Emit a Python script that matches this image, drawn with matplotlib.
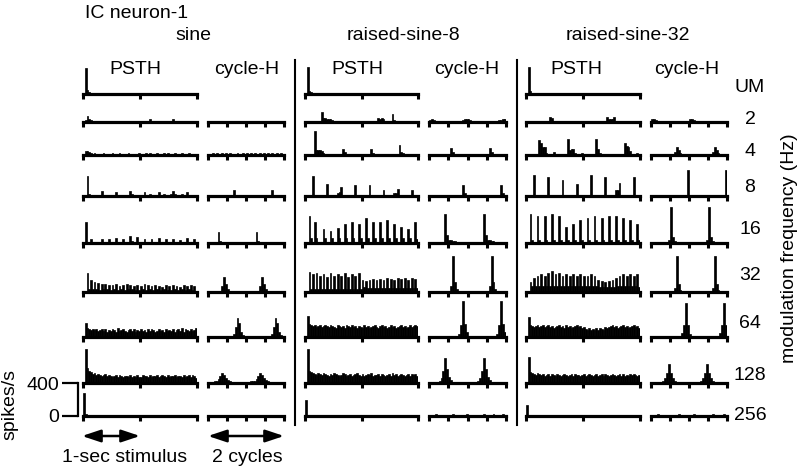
import numpy as np
import matplotlib.pyplot as plt
from matplotlib.lines import Line2D
from matplotlib.patches import FancyArrowPatch

plt.rcParams['font.family'] = ['Liberation Sans', 'DejaVu Sans']
FS = 14

conditions = ['sine', 'raised-sine-8', 'raised-sine-32']
rates = ['UM', '2', '4', '8', '16', '32', '64', '128', '256']

# Histogram heights, one base-36 char per bin, 1 step = 12.5 spikes/s.
# PSTH: 64 bins over the 1-s stimulus. cycle-H: 40 bins over 2 cycles (no UM row).
STEP = 12.5

sine_psth = [
    "0p421100 00000000 00000000 00000000 00000000 00000000 00000000 00000000",
    "02632110 10010001 00100100 01001000 00100301 00100010 00310010 01001000",
    "04432121 01020100 20102010 02010102 01020201 02010202 01020102 01020100",
    "00j21010 01510000 00401000 00520100 00410201 01410201 02520102 01410100",
    "0k104100 00410041 00510041 00720061 00410041 00510041 00410031 00510040",
    "00i3c3a3 92838372 73826372 83736272 63827362 73625372 62736253 72637261",
    "0e987878 67868576 87596786 57868576 86758687 56867586 76857869 58768679",
    "0xfcb9a8 98789787 67868767 76867686 68776867 78678768 67786776 86786875",
    "m2000000 00000000 00000000 00000000 00000000 00000000 00000000 00000000",
]
sine_cyc = [
    "10110101 10010110 01011010 11010100 10110101",
    "01212112 12121012 11212121 21121212 12112121",
    "00000000 00001610 00000000 00000000 16100000",
    "00000b21 10000000 00000000 0b211000 00000000",
    "00000016 f8310000 00000000 0006f831 00000000",
    "10101010 000003ai e5210101 01010100 03aie521",
    "1112247a 85321111 11111122 247a8532 11111111",
    "01101011 01101001 10101101 01101011 01011010",
]

rs8_psth = [
    "0q320000 00000000 00000000 00000000 00000000 00000000 00000000 00000000",
    "00000000 0a443332 10000000 00000000 00000000 04343000 08200000 00000000",
    "00000n55 54200000 00000630 00000000 00000620 00000000 00000a32 10000000",
    "0000j100 0000c100 00349100 0000b100 0000b100 00006100 00337100 00016100",
    "00q50k50 00e500c5 00f500i5 00k500i5 00o500k5 00k500m5 00i500g5 00e500k4",
    "00j3h3i3 g3h3f3i3 g3h3g3i3 f3h3g3i3 c5b4c4d4 c4d4c4e4 d4c4e4d4 e4c4e4d4",
    "0kdcbcab cabcbacb a9cbab9c bacab9ba 9cab9abc a9bcab9a cab9abca b9acabcb",
    "0xcba98a 98a98798 a9878a97 89789a87 97898a78 89798789 7a897898 78979897",
    "g1000000 00000000 00000000 00000000 00000000 00000000 00000000 00000000",
]
rs8_cyc = [
    "23210000 00000001 12333211 00000001 11112233",
    "00000000 00073100 00000000 00000007 31000000",
    "00000000 00000000 1b310000 00000000 00001b31",
    "00000001 s8332210 00000000 0000s833 22100000",
    "00000000 0006za31 00000000 00000006 za310000",
    "00000000 00000013 czd51000 00000000 0013czd5",
    "1111125c oe631111 11111111 125coe63 11111111",
    "01121011 01112101 10121101 11012110 12101121",
]

rs32_psth = [
    "0q310000 00000000 00000000 00000000 00000000 00000000 00000000 00000000",
    "00000000 00000541 00000000 00000000 00000000 00000533 35100000 00000000",
    "0000000f c8820003 0000000g 56620002 0000000g 62000000 0000000c 98400020",
    "0000k100 0000i100 0000g100 0000c100 0000k100 0000i100 0066d100 0000i100",
    "00s300q3 00q300s3 00q300g3 00i300m3 00o300q3 00o300q3 00q300o3 00m300i3",
    "00a6e6g6 h6g6i6k6 h6i6g6h6 g6h6g6h6 g6g6h6g6 c5b5a5b5 c5e6g6h6 g6h6g6h5",
    "0jcbabca bcabcab9 abcab9ca b9abcab9 a8797879 7987a9ab cab9abca b9abcab9",
    "0pba98a9 89789798 79878987 89798878 97898789 78979878 98789797 87989878",
    "b1000000 00000000 00000000 00000000 00000000 00000000 00000000 00000000",
]
rs32_cyc = [
    "33210000 00000000 00013321 00000000 00000000",
    "00000000 00003852 00000000 00000000 38520000",
    "00000000 00000000 001p1000 00000000 0000001p",
    "00000000 03z62100 00000000 000003z6 21000000",
    "00000000 00004z82 00000000 00000000 4z820000",
    "00000000 00000000 4cxc3100 00000000 00004cxc",
    "11111125 aia52111 11111111 1125aia5 21111111",
    "01121011 01101121 10110121 01101011 21101121",
]

psth_data = [sine_psth, rs8_psth, rs32_psth]
cyc_data = [sine_cyc, rs8_cyc, rs32_cyc]

# layout in pixels (y measured from the top)
W, H = 800, 467
psth_x = [(83, 197), (305, 418), (526, 640)]
cyc_x = [(208, 284), (429, 506), (651, 727)]
row_base = [94, 122, 155, 196, 243, 292, 337, 383, 416]
label_y = [88, 120, 152, 188, 230, 275, 323, 375, 415]
title_x = [193, 403, 628]
psth_lab_x = [135, 357, 576]
cyc_lab_x = [247, 467, 687]
PX_400 = 33.0   # 400 spikes/s in pixels
PANEL_H = 44


def decode(s):
    return np.array([int(c, 36) for c in s.replace(' ', '')]) * STEP


def fx(x):
    return x / W


def fy(y):
    return 1 - y / H


def draw_hist(x0, x1, base, values, span, ticks):
    ax = fig.add_axes([fx(x0), fy(base), (x1 - x0) / W, PANEL_H / H])
    n = len(values)
    ax.bar(np.arange(n) * span / n, values, width=span / n, align='edge',
           color='black', edgecolor='black', linewidth=0.5)
    ax.set_xlim(0, span)
    ax.set_ylim(0, PANEL_H * 400 / PX_400)
    for side in ['top', 'left', 'right']:
        ax.spines[side].set_visible(False)
    ax.spines['bottom'].set_linewidth(2.3)
    ax.spines['bottom'].set_zorder(3)
    ax.set_xticks(ticks)
    ax.set_xticklabels([])
    ax.set_yticks([])
    ax.tick_params(axis='x', direction='out', length=3.8, width=2.2)
    ax.patch.set_visible(False)
    return ax


fig = plt.figure(figsize=(8, 4.67), dpi=100)

fig.text(fx(85), fy(13), 'IC neuron-1', fontsize=FS, ha='left', va='center')

for c in range(3):
    fig.text(fx(title_x[c]), fy(36), conditions[c], fontsize=FS, ha='center', va='center')
    fig.text(fx(psth_lab_x[c]), fy(69), 'PSTH', fontsize=FS, ha='center', va='center')
    fig.text(fx(cyc_lab_x[c]), fy(69), 'cycle-H', fontsize=FS, ha='center', va='center')
    for r in range(len(rates)):
        draw_hist(psth_x[c][0], psth_x[c][1], row_base[r], decode(psth_data[c][r]),
                  1.0, [0, 0.5, 1.0])
        if r > 0:
            draw_hist(cyc_x[c][0], cyc_x[c][1], row_base[r], decode(cyc_data[c][r - 1]),
                      2.0, [0, 0.5, 1.0, 1.5, 2.0])

# separators between stimulus conditions
for xs in [295, 517]:
    fig.add_artist(Line2D([fx(xs), fx(xs)], [fy(60), fy(425)], color='black', lw=1.5))

# row labels
for r, lab in enumerate(rates):
    fig.text(fx(750), fy(label_y[r]), lab, fontsize=FS, ha='center', va='center')
fig.text(fx(790), fy(248), 'modulation frequency (Hz)', fontsize=FS,
         rotation=90, ha='center', va='center')

# scale bar: 0-400 spikes/s
sb = fig.add_axes([fx(78), fy(row_base[8]), 0.5 / W, PX_400 / H])
sb.set_ylim(0, 400)
sb.set_yticks([0, 400])
sb.set_yticklabels(['0', '400'], fontsize=FS)
sb.set_xticks([])
for side in ['top', 'right', 'bottom']:
    sb.spines[side].set_visible(False)
sb.spines['left'].set_linewidth(1.6)
sb.tick_params(axis='y', direction='out', length=11.5, width=1.6, pad=2)
sb.patch.set_visible(False)
fig.text(fx(10), fy(405), 'spikes/s', fontsize=FS, rotation=90, ha='center', va='center')

# time scale arrows
for (a, b) in [(82, 140), (208, 284)]:
    fig.add_artist(FancyArrowPatch((fx(a), fy(436)), (fx(b), fy(436)),
                                   transform=fig.transFigure,
                                   arrowstyle='<|-|>,head_length=0.75,head_width=0.25',
                                   mutation_scale=15, lw=1.8, color='black',
                                   shrinkA=0, shrinkB=0))
fig.text(fx(125), fy(457), '1-sec stimulus', fontsize=FS, ha='center', va='center')
fig.text(fx(247), fy(457), '2 cycles', fontsize=FS, ha='center', va='center')

fig.savefig('out.png', dpi=100)
